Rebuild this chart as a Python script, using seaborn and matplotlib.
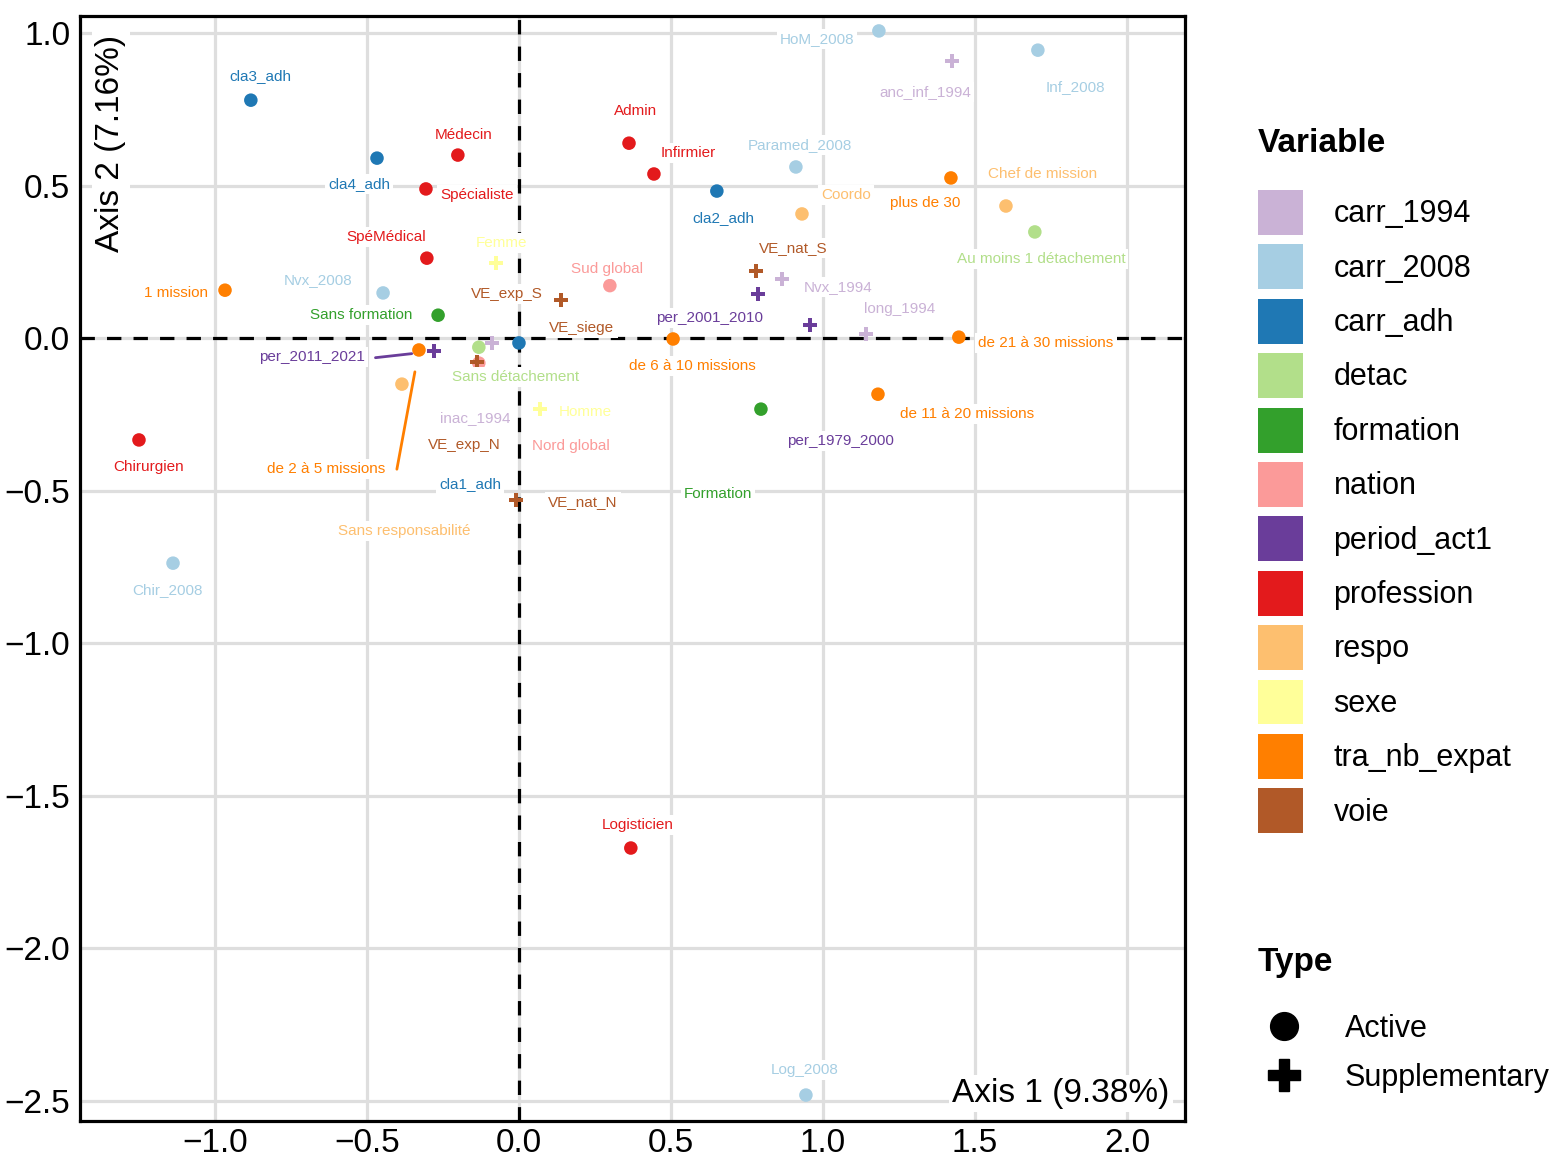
import matplotlib
matplotlib.use("Agg")
import matplotlib.pyplot as plt
import seaborn as sns
import pandas as pd
from matplotlib.patches import Patch
from matplotlib.lines import Line2D

# ---------------- data ----------------
labels = ["cla3_adh", "cla4_adh", "cla2_adh", "cla1_adh",
          "Médecin", "Spécialiste", "SpéMédical", "Admin", "Infirmier", "Chirurgien", "Logisticien",
          "HoM_2008", "Inf_2008", "Paramed_2008", "Nvx_2008", "Chir_2008", "Log_2008",
          "Sans formation", "Formation",
          "Sans détachement", "Au moins 1 détachement",
          "Sud global", "Nord global",
          "Chef de mission", "Coordo", "Sans responsabilité",
          "1 mission", "de 2 à 5 missions", "de 6 à 10 missions", "de 11 à 20 missions",
          "de 21 à 30 missions", "plus de 30",
          "anc_inf_1994", "Nvx_1994", "long_1994", "inac_1994",
          "per_1979_2000", "per_2001_2010", "per_2011_2021",
          "Femme", "Homme",
          "VE_siege", "VE_exp_S", "VE_nat_S", "VE_exp_N", "VE_nat_N"]

variables = (["carr_adh"] * 4 + ["profession"] * 7 + ["carr_2008"] * 6 + ["formation"] * 2 +
             ["detac"] * 2 + ["nation"] * 2 + ["respo"] * 3 + ["tra_nb_expat"] * 6 +
             ["carr_1994"] * 4 + ["period_act1"] * 3 + ["sexe"] * 2 + ["voie"] * 5)

types = ["Active"] * 32 + ["Supplementary"] * 14

dim1 = [-0.882, -0.467, 0.651, 0.000,
        -0.201, -0.306, -0.303, 0.362, 0.444, -1.250, 0.368,
        1.184, 1.707, 0.911, -0.447, -1.138, 0.944,
        -0.266, 0.796,
        -0.132, 1.697,
        0.299, -0.132,
        1.602, 0.931, -0.385,
        -0.967, -0.329, 0.507, 1.181, 1.447, 1.421,
        1.424, 0.865, 1.141, -0.089,
        0.957, 0.786, -0.280,
        -0.076, 0.069,
        0.190, 0.138, 0.780, -0.138, -0.010]

dim2 = [0.780, 0.590, 0.482, -0.016,
        0.600, 0.489, 0.262, 0.639, 0.538, -0.334, -1.672,
        1.007, 0.944, 0.561, 0.148, -0.738, -2.482,
        0.075, -0.233,
        -0.030, 0.348,
        0.172, -0.082,
        0.433, 0.407, -0.151,
        0.157, -0.039, -0.003, -0.184, 0.003, 0.525,
        0.908, 0.193, 0.013, -0.016,
        0.043, 0.144, -0.043,
        0.246, -0.233,
        0.035, 0.125, 0.220, -0.079, -0.531]

# label placement (repelled text positions, data units)
label_x = [-0.852, -0.526, 0.671, -0.161,
           -0.181, -0.138, -0.4375, 0.385, 0.556, -1.220, 0.391,
           0.980, 1.829, 0.924, -0.661, -1.155, 0.941,
           -0.520, 0.655,
           -0.010, 1.717,
           0.289, 0.171,
           1.724, 1.076, -0.378,
           -1.128, -0.635, 0.569, 1.474, 1.734, 1.336,
           1.336, 1.049, 1.253, -0.145,
           1.059, 0.628, -0.681,
           -0.056, 0.217,
           0.207, -0.039, 0.901, -0.181, 0.211]
label_y = [0.859, 0.505, 0.393, -0.479,
           0.666, 0.469, 0.331, 0.744, 0.607, -0.423, -1.597,
           0.980, 0.823, 0.633, 0.190, -0.826, -2.400,
           0.075, -0.511,
           -0.128, 0.259,
           0.226, -0.354,
           0.538, 0.469, -0.633,
           0.148, -0.430, -0.092, -0.249, -0.016, 0.443,
           0.807, 0.167, 0.095, -0.262,
           -0.338, 0.066, -0.062,
           0.311, -0.243,
           0.033, 0.144, 0.295, -0.351, -0.538]

var_order = ["carr_1994", "carr_2008", "carr_adh", "detac", "formation", "nation",
             "period_act1", "profession", "respo", "sexe", "tra_nb_expat", "voie"]
var_colors = ["#CAB2D6", "#A6CEE3", "#1F78B4", "#B2DF8A", "#33A02C", "#FB9A99",
              "#6A3D9A", "#E31A1C", "#FDBF6F", "#FFFF99", "#FF7F00", "#B15928"]
palette = dict(zip(var_order, var_colors))

df = pd.DataFrame({"label": labels, "variable": variables, "type": types,
                   "Dim1": dim1, "Dim2": dim2, "lx": label_x, "ly": label_y})

# ---------------- style ----------------
sns.set_style("white")
plt.rcParams["font.family"] = ["Liberation Sans", "DejaVu Sans"]
plt.rcParams["text.color"] = "black"
plt.rcParams["xtick.color"] = "black"
plt.rcParams["ytick.color"] = "black"

W, H = 1553, 1157
fig = plt.figure(figsize=(W / 100, H / 100), dpi=100)
ax = fig.add_axes([80 / W, 1 - 1121 / H, (1185 - 80) / W, (1121 - 16) / H])

ax.set_xlim(-1.444, 2.191)
ax.set_ylim(-2.567, 1.056)
ax.set_xticks([-1.0, -0.5, 0.0, 0.5, 1.0, 1.5, 2.0])
ax.set_yticks([1.0, 0.5, 0.0, -0.5, -1.0, -1.5, -2.0, -2.5])
ax.grid(True, color="#DEDEDE", linewidth=2.3, zorder=0)
ax.set_axisbelow(True)
ax.tick_params(axis="y", length=0, labelsize=24, pad=7, colors="black")
ax.tick_params(axis="x", length=0, labelsize=24, pad=5, colors="black")
for s in ax.spines.values():
    s.set_color("black")
    s.set_linewidth(2.3)
    s.set_zorder(10)

ax.axhline(0, color="black", linewidth=2.3, linestyle=(0, (4.5, 3.8)), zorder=1)
ax.axvline(0, color="black", linewidth=2.3, linestyle=(0, (4.5, 3.8)), zorder=1)

sns.scatterplot(data=df, x="Dim1", y="Dim2", hue="variable", style="type",
                markers={"Active": "o", "Supplementary": "P"}, palette=palette,
                s=95, linewidth=0, legend=False, ax=ax, zorder=3)
ax.set_xlabel("")
ax.set_ylabel("")

# labels (drawn above the points, as repelled text with white boxes)
seg_labels = {"per_2011_2021": (1.1, 0.45), "de 2 à 5 missions": (1.1, 0.5)}
for _, r in df.iterrows():
    col = palette[r["variable"]]
    bb = dict(boxstyle="square,pad=0.2", fc="white", ec="none")
    if r["label"] in seg_labels:
        ax.annotate(r["label"], xy=(r["Dim1"], r["Dim2"]), xytext=(r["lx"], r["ly"]),
                    ha="center", va="center", fontsize=11, color=col, bbox=bb, zorder=4,
                    arrowprops=dict(arrowstyle="-", color=col, lw=2.0, shrinkA=0, shrinkB=16,
                                    relpos=seg_labels[r["label"]]))
    else:
        ax.text(r["lx"], r["ly"], r["label"], ha="center", va="center", fontsize=11,
                color=col, bbox=bb, zorder=4)

# axis titles inside the panel
ax.text(0.028, 0.983, "Axis 2 (7.16%)", transform=ax.transAxes, rotation=90,
        ha="center", va="top", fontsize=24,
        bbox=dict(boxstyle="square,pad=0.1", fc="white", ec="none"), zorder=5)
ax.text(0.986, 0.025, "Axis 1 (9.38%)", transform=ax.transAxes,
        ha="right", va="center", fontsize=24,
        bbox=dict(boxstyle="square,pad=0.1", fc="white", ec="none"), zorder=5)

# ---------------- legends ----------------
fig.text(1258 / W, 1 - 143 / H, "Variable", fontsize=24, fontweight="bold",
         ha="left", va="center")
handles = [Patch(facecolor=c, edgecolor="none") for c in var_colors]
fig.legend(handles, var_order, loc="upper left", bbox_to_anchor=(1258 / W, 1 - 190 / H),
           frameon=False, fontsize=22, handlelength=1.47, handleheight=1.885,
           handletextpad=1.0, labelspacing=0.31, borderpad=0, borderaxespad=0)

fig.text(1258 / W, 1 - 962 / H, "Type", fontsize=24, fontweight="bold",
         ha="left", va="center")
th = [Line2D([], [], marker="o", color="black", linestyle="none", markersize=20),
      Line2D([], [], marker="P", color="black", linestyle="none", markersize=23)]
fig.legend(th, ["Active", "Supplementary"], loc="upper left",
           bbox_to_anchor=(1262 / W, 1 - 1014 / H), frameon=False, fontsize=22,
           handlelength=1.45, handletextpad=1.25, labelspacing=0.62, borderpad=0,
           borderaxespad=0)

fig.savefig("out.png", dpi=100, facecolor="white")
